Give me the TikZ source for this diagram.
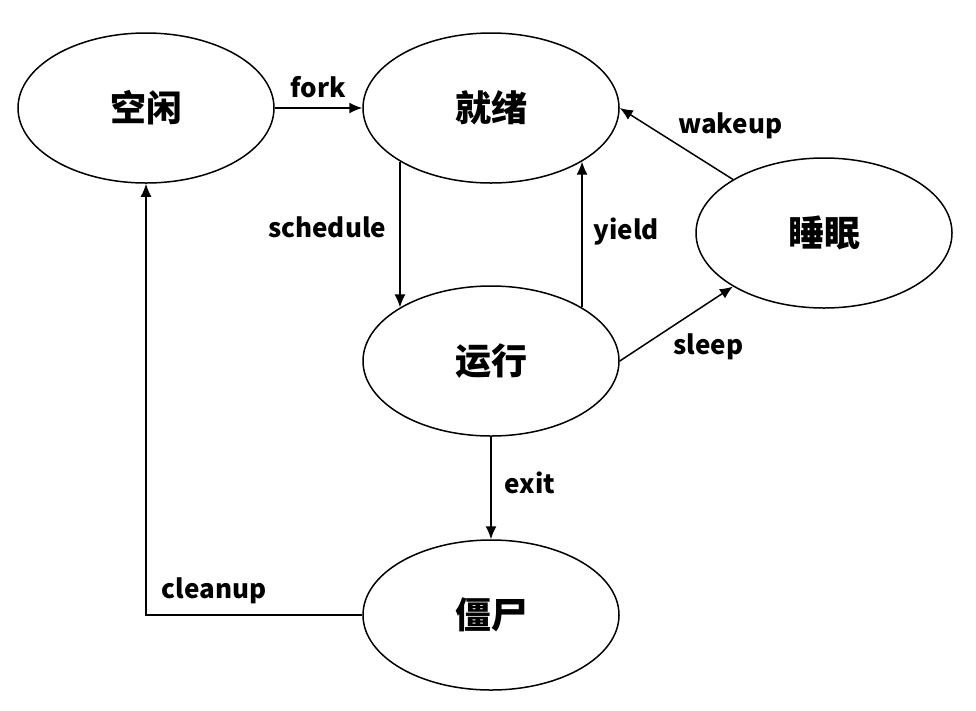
\documentclass[tikz,border=0pt]{standalone}
\usepackage{fontspec}
\newfontfamily\cjk{Noto Sans CJK SC}
\usetikzlibrary{positioning,arrows.meta,shapes.geometric}

\begin{document}
\begin{tikzpicture}[x=1pt, y=-1pt,
      state/.style={draw, ellipse, minimum width=256pt, minimum height=150pt,
                    inner sep=0pt, font=\cjk\bfseries\fontsize{36}{40}\selectfont},
      lbl/.style={font=\cjk\bfseries\fontsize{26}{29}\selectfont, inner sep=0pt},
      >={Latex[length=13pt, width=11pt]}, line width=1.5pt]
    \useasboundingbox (0,0) rectangle (976,710);
    \node[state] (kongxian) at (146,108) {空闲};
    \node[state, right=87.5pt of kongxian] (jiuxu) {就绪};
    \node[state, below=101.5pt of jiuxu] (yunxing) {运行};
    \node[state, below=102.5pt of yunxing] (jiangshi) {僵尸};
    \node[state] (shuimian) at (824,233) {睡眠};
    \draw[->] (kongxian) -- node[lbl, above=9pt] {fork} (jiuxu);
    \draw[->] (jiuxu.south west) -- node[lbl, pos=0.45, left=13pt] {schedule} (yunxing.north west);
    \draw[->] (yunxing.north east) -- node[lbl, pos=0.52, right=11pt] {yield} (jiuxu.south east);
    \draw[->] (shuimian.north west) -- node[lbl, above right=4pt and 1pt] {wakeup} (jiuxu.east);
    \draw[->] (yunxing.east) -- node[lbl, below right=9pt and -4pt] {sleep} (shuimian.south west);
    \draw[->] (yunxing) -- node[lbl, pos=0.45, right=13pt] {exit} (jiangshi);
    \draw[->] (jiangshi.west) -| node[lbl, pos=0.343, above=10pt] {cleanup} (kongxian.south);
  \end{tikzpicture}
\end{document}
